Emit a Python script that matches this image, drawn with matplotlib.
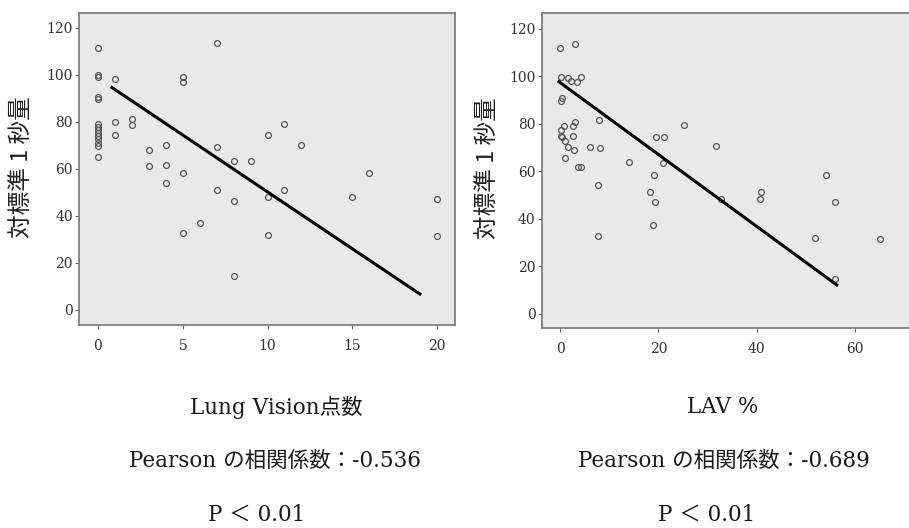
import matplotlib
matplotlib.use("Agg")
import matplotlib.pyplot as plt
import numpy as np

# 左: Lung Vision点数 vs 対標準1秒量
lv_score = [0]*14 + [1]*3 + [2]*2 + [3]*2 + [4]*3 + [5]*4 + [6] + [7]*3 + [8]*3 + [9] + [10]*3 + [11]*2 + [12] + [15] + [16] + [20]*2
lv_fev = [111.6, 100.0, 99.1, 90.8, 89.7, 79.0, 77.7, 76.6, 75.2, 74.0, 72.6, 71.2, 69.8, 65.2,
          98.2, 80.1, 74.3,
          81.3, 78.7,
          68.2, 61.4,
          70.1, 61.7, 53.9,
          99.3, 97.0, 58.2, 32.6,
          36.9,
          113.5, 69.5, 51.1,
          63.4, 46.5, 14.5,
          63.4,
          74.5, 47.9, 31.9,
          79.1, 51.1,
          70.4,
          47.9,
          58.2,
          47.1, 31.5]
lv_fit_x = [0.75, 19.06]
lv_fit_y = [95.0, 6.4]

# 右: LAV % vs 対標準1秒量
lav_pct = [0.0, 3.0, 0.2, 1.6, 2.1, 3.3, 4.3, 0.3, 0.1, 7.9, 3.0, 2.6, 0.8, 0.1, 0.1, 0.3,
           2.6, 1.0, 1.6, 2.7, 0.9, 6.1, 8.1, 3.6, 4.1, 14.0, 19.5, 21.2, 20.9, 25.3, 31.7,
           19.1, 54.1, 7.6, 7.7, 18.3, 19.3, 18.8, 32.8, 40.8, 41.0, 56.0, 51.9, 65.2, 55.9]
lav_fev = [111.9, 113.7, 99.9, 99.2, 98.2, 97.4, 99.5, 90.8, 89.7, 81.7, 80.6, 79.2, 78.9, 77.5, 74.9, 74.4,
           74.7, 72.8, 70.4, 68.8, 65.6, 70.4, 69.8, 62.0, 62.0, 63.9, 74.4, 74.4, 63.7, 79.4, 70.5,
           58.4, 58.4, 54.2, 32.6, 51.2, 46.9, 37.2, 48.3, 48.3, 51.2, 47.2, 32.0, 31.6, 14.7]
lav_fit_x = [-0.55, 56.6]
lav_fit_y = [98.1, 11.8]

ylabel = "対標準 1 秒量"
yticks = [0, 20, 40, 60, 80, 100, 120]

serif = ["DejaVu Serif", "Noto Sans CJK JP"]
jp = ["Noto Sans CJK JP", "DejaVu Sans"]

fig = plt.figure(figsize=(9.09, 5.28), dpi=100)
ax1 = fig.add_axes([0.0869, 0.3845, 0.4137, 0.591])
ax2 = fig.add_axes([0.596, 0.379, 0.41, 0.5966])


def style_axes(ax, xs, ys, fx, fy, xticks, xlim, ylim, lab_x, lab_y):
    ax.set_facecolor("#e9e9e9")
    ax.plot(xs, ys, linestyle="none", marker="o", markersize=4.2,
            markerfacecolor="none", markeredgecolor="#555555", markeredgewidth=0.9)
    ax.plot(fx, fy, color="black", linewidth=2.2, solid_capstyle="butt")
    ax.set_xlim(*xlim)
    ax.set_ylim(*ylim)
    ax.set_xticks(xticks)
    ax.set_yticks(yticks)
    for s in ax.spines.values():
        s.set_color("#7f7f7f")
        s.set_linewidth(1.3)
    ax.tick_params(direction="out", length=3, width=0.8, color="#666666",
                   labelcolor="#333333", labelsize=10)
    ax.tick_params(axis="x", pad=7)
    ax.tick_params(axis="y", pad=1.5)
    for t in ax.get_xticklabels() + ax.get_yticklabels():
        t.set_family("DejaVu Serif")
    ax.set_ylabel(ylabel, family=jp, fontsize=17, color="#222222")
    ax.yaxis.label.set_va("center")
    ax.yaxis.set_label_coords(lab_x, lab_y)


style_axes(ax1, lv_score, lv_fev, lv_fit_x, lv_fit_y, [0, 5, 10, 15, 20],
           (-1.12, 21.06), (-6.4, 126.4), -0.154, 0.506)
style_axes(ax2, lav_pct, lav_fev, lav_fit_x, lav_fit_y, [0, 20, 40, 60],
           (-3.8, 72.2), (-5.9, 126.7), -0.146, 0.508)
ax2.spines["right"].set_visible(False)

txt = dict(ha="center", va="center", family=serif, fontsize=15.5, color="#1a1a1a")
fig.text(0.3036, 0.229, "Lung Vision点数", **txt)
fig.text(0.3025, 0.127, "Pearson の相関係数：-0.536", **txt)
fig.text(0.2827, 0.0246, "P ＜ 0.01", **txt)
fig.text(0.7954, 0.229, "LAV %", **txt)
fig.text(0.7965, 0.127, "Pearson の相関係数：-0.689", **txt)
fig.text(0.7778, 0.0246, "P ＜ 0.01", **txt)

fig.savefig("out.png", dpi=100)
